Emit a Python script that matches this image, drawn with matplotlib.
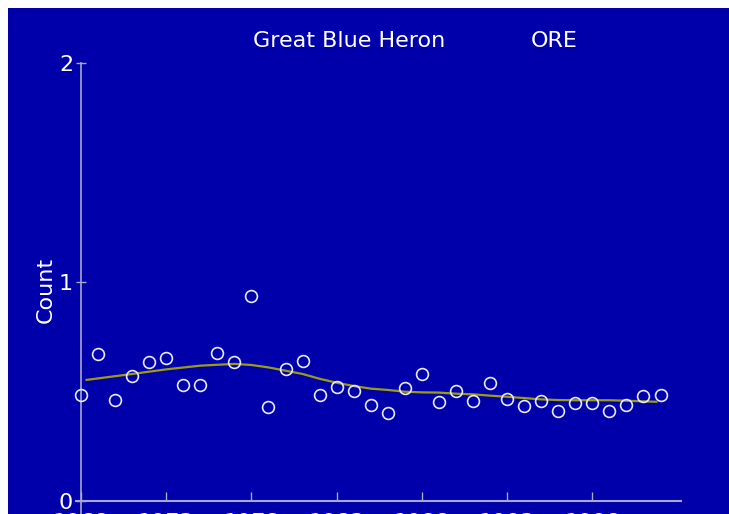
import matplotlib.pyplot as plt
from matplotlib.patches import Rectangle

# yearly counts (open circles)
years = list(range(1968, 2003))
counts = [0.484, 0.671, 0.461, 0.571, 0.635, 0.653, 0.530, 0.530, 0.676, 0.635,
          0.936, 0.429, 0.603, 0.639, 0.484, 0.521, 0.502, 0.438, 0.402, 0.516,
          0.580, 0.452, 0.502, 0.457, 0.539, 0.466, 0.434, 0.457, 0.411, 0.447,
          0.447, 0.411, 0.438, 0.479, 0.484]

# smoothed trend line
trend_years = [1968.33, 1971, 1973, 1975, 1977, 1978, 1979, 1980, 1981, 1982,
               1983, 1984, 1985, 1986, 1987, 1988, 1989, 1990, 1991, 1992,
               1993, 1994, 1995, 1996, 1997, 1998, 1999, 2000, 2001, 2001.76]
trend = [0.553, 0.580, 0.601, 0.618, 0.626, 0.621, 0.610, 0.595, 0.580, 0.558,
         0.540, 0.525, 0.513, 0.507, 0.499, 0.496, 0.495, 0.490, 0.487, 0.481,
         0.476, 0.470, 0.464, 0.461, 0.460, 0.460, 0.460, 0.458, 0.455, 0.453]

xticks = [1968, 1973, 1978, 1983, 1988, 1993, 1998]
yticks = [0, 1, 2]

bg = '#0000aa'
axcol = '#a8a8c8'

fig = plt.figure(figsize=(7.29, 5.14), dpi=100, facecolor='white')
fig.add_artist(Rectangle((8 / 729, 0), 1, 506 / 514, transform=fig.transFigure,
                         facecolor=bg, edgecolor='none', zorder=0))

ax = fig.add_axes([0.1041, -0.0045, 0.830, 0.8819])
ax.set_facecolor('none')

ax.plot(trend_years, trend, color='#9c9c10', lw=1.6, zorder=2)
ax.plot(years, counts, 'o', mfc='none', mec='#e8e8ff', mew=1.2, ms=8.5,
        zorder=3, clip_on=False)

ax.set_xlim(1967.7, 2003.2)
ax.set_ylim(-0.07, 2)

for s in ['top', 'right']:
    ax.spines[s].set_visible(False)
ax.spines['left'].set_position(('data', 1968))
ax.spines['bottom'].set_position(('data', 0))
ax.spines['left'].set_color(axcol)
ax.spines['bottom'].set_color(axcol)
ax.spines['left'].set_linewidth(1.2)
ax.spines['bottom'].set_linewidth(1.5)

ax.set_xticks(xticks)
ax.set_yticks(yticks)
ax.tick_params(axis='y', direction='inout', length=7.5, width=1, color=axcol,
               labelcolor='white', labelsize=16, pad=2)
ax.tick_params(axis='x', direction='in', length=6.5, width=1, color=axcol,
               labelcolor='white', labelsize=16, pad=8.5)

ax.set_ylabel('Count', color='white', fontsize=16, labelpad=2)

fig.text(349 / 729, 0.920, 'Great Blue Heron', color='white', fontsize=16,
         ha='center', va='center')
fig.text(554 / 729, 0.920, 'ORE', color='white', fontsize=16,
         ha='center', va='center')

fig.savefig('out.png', dpi=100, facecolor='white')
